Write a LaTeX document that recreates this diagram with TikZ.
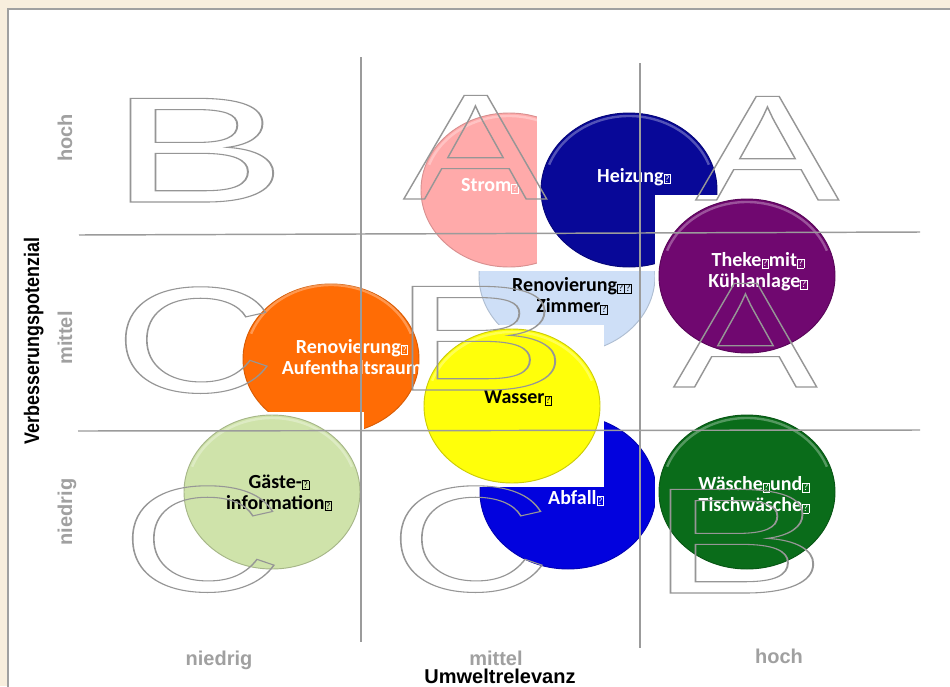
\documentclass[tikz,border=0pt]{standalone}
\usepackage{fontspec}
\setmainfont{Carlito}
\newfontfamily\arialfont{Liberation Sans}
\definecolor{bgbeige}{RGB}{248,238,221}
\definecolor{framegray}{RGB}{160,160,160}
\definecolor{gridgray}{RGB}{155,155,155}
\definecolor{labelgray}{RGB}{160,160,160}
\definecolor{lettergray}{RGB}{150,150,150}
\definecolor{pinkbub}{RGB}{255,170,170}
\definecolor{navybub}{RGB}{8,8,152}
\definecolor{purplebub}{RGB}{112,8,112}
\definecolor{skybub}{RGB}{206,223,247}
\definecolor{orangebub}{RGB}{255,108,5}
\definecolor{yellowbub}{RGB}{255,255,10}
\definecolor{sagebub}{RGB}{207,227,170}
\definecolor{bluebub}{RGB}{2,2,222}
\definecolor{greenbub}{RGB}{10,108,26}
\newcommand{\qbox}{{\setlength{\fboxsep}{0.5pt}\setlength{\fboxrule}{0.5pt}\fbox{\fontsize{7.5}{7.5}\selectfont\mdseries ?}}}
\newcommand{\outl}[1]{\special{pdf:literal direct 1 Tr 0.8 w}#1\special{pdf:literal direct 0 Tr}}
\tikzstyle{bubble}=[line width=0.7pt]
\tikzstyle{rim}=[white, opacity=0.3, line width=1.8pt]
\tikzstyle{bubbletext}=[text=white, font=\bfseries\fontsize{15}{15.8}\selectfont, align=center, inner sep=0pt]
\tikzstyle{axislabel}=[text=labelgray, font=\arialfont\bfseries\fontsize{15}{15}\selectfont, inner sep=0pt, anchor=base]
\tikzstyle{bigletter}=[text=lettergray, font=\arialfont\fontsize{113}{113}\selectfont, inner sep=0pt, anchor=base west]
\newcommand{\toprim}[1]{\draw[rim] (#1) ++(200:85 and 74) arc[start angle=200, end angle=340, x radius=85, y radius=74];}

\begin{document}
\begin{tikzpicture}[x=0.75pt, y=-0.75pt]
\useasboundingbox (0,0) rectangle (950,686);
% Sheet
    \fill[bgbeige] (0,0) rectangle (950,686);
    \filldraw[fill=white, draw=framegray, line width=0.9pt] (8,9) rectangle (970,700);
% Bubbles, each on its white box
    \fill[white] (475,195) rectangle (659,357);
    \filldraw[fill=skybub, draw=skybub!85!black, bubble] (567,276) ellipse[x radius=88, y radius=77];
    \node[bubbletext, text=black] (zimmer) at (572,296) {Renovierung\qbox\qbox\\Zimmer\qbox};
    \fill[white] (417,109) rectangle (601,271);
    \filldraw[fill=pinkbub, draw=pinkbub!85!black, bubble] (509,190) ellipse[x radius=88, y radius=77];
    \toprim{509,190}
    \node[bubbletext] (strom) at (490,186) {Strom\qbox};
    \fill[white] (537,109) rectangle (721,271);
    \filldraw[fill=navybub, draw=navybub!80!black, bubble] (629,190) ellipse[x radius=88, y radius=77];
    \toprim{629,190}
    \node[bubbletext] (heizung) at (634,177) {Heizung\qbox};
    \fill[white] (655,195) rectangle (839,357);
    \filldraw[fill=purplebub, draw=purplebub!80!black, bubble] (747,276) ellipse[x radius=88, y radius=77];
    \toprim{747,276}
    \node[bubbletext] (theke) at (758,272) {Theke\qbox mit\qbox\\K\"uhlanlage\qbox};
    \fill[white] (239,278) rectangle (423,440);
    \filldraw[fill=orangebub, draw=orangebub!85!black, bubble] (331,359) ellipse[x radius=88, y radius=75];
    \toprim{331,359}
    \node[bubbletext] (aufenthalt) at (352,357) {Renovierung\qbox\\Aufenthaltsraum};
    \fill[white] (180,412) rectangle (364,573);
    \filldraw[fill=sagebub, draw=sagebub!80!black, bubble] (272,492) ellipse[x radius=88, y radius=77];
    \toprim{272,492}
    \node[bubbletext, text=black] (gaeste) at (279,493) {G\"aste-\qbox\\information\qbox};
    \fill[white] (476,411) rectangle (660,573);
    \filldraw[fill=bluebub, draw=bluebub!80!black, bubble] (568,492) ellipse[x radius=88, y radius=77];
    \node[bubbletext] (abfall) at (576,498) {Abfall\qbox};
    \fill[white] (420,325) rectangle (604,487);
    \filldraw[fill=yellowbub, draw=yellowbub!80!black, bubble] (512,406) ellipse[x radius=88, y radius=77];
    \toprim{512,406}
    \node[bubbletext, text=black] (wasser) at (518,398) {Wasser\qbox};
    \fill[white] (655,411) rectangle (839,573);
    \filldraw[fill=greenbub, draw=greenbub!80!black, bubble] (747,492) ellipse[x radius=88, y radius=77];
    \toprim{747,492}
    \node[bubbletext] (waesche) at (754,495) {W\"asche\qbox und\qbox\\Tischw\"asche\qbox};
% Letters
    \node[bigletter, xscale=1.78] (bTop) at (108,202) {\outl{B}};
    \node[bigletter, xscale=1.43] (aTopMid) at (403,199) {\outl{A}};
    \node[bigletter, xscale=1.43] (aTopRight) at (695,200) {\outl{A}};
    \node[bigletter, xscale=1.48] (cMid) at (114,392) {\outl{C}};
    \node[bigletter, xscale=1.78] (bMid) at (390,390) {\outl{B}};
    \node[bigletter, xscale=1.43] (aMid) at (673,387) {\outl{A}};
    \node[bigletter, xscale=1.48] (cLowLeft) at (121,591) {\outl{C}};
    \node[bigletter, xscale=1.48] (cLowMid) at (389,591) {\outl{C}};
    \node[bigletter, xscale=1.78] (bLow) at (648,593) {\outl{B}};
% Grid
    \draw[gridgray, line width=1.1pt] (361,57) -- (361,642);
    \draw[gridgray, line width=1.1pt] (640,63) -- (640,648);
    \draw[gridgray, line width=1.1pt] (79,235) -- (920,232);
    \draw[gridgray, line width=1.1pt] (78,431) -- (920,430);
% Axes
    \node[axislabel, rotate=90] (yHoch) at (72,138) {hoch};
    \node[axislabel, rotate=90] (yMittel) at (72,338) {mittel};
    \node[axislabel, rotate=90] (yNiedrig) at (72,512) {niedrig};
    \node[axislabel, text=black, rotate=90, xscale=0.85, font=\arialfont\bfseries\fontsize{15.8}{15.8}\selectfont] (yTitle) at (39,341) {Verbesserungspotenzial};
    \node[axislabel] (xNiedrig) at (219,665) {niedrig};
    \node[axislabel] (xMittel) at (496,665) {mittel};
    \node[axislabel] (xHoch) at (779,663) {hoch};
    \node[axislabel, text=black] (xTitle) at (500,683) {Umweltrelevanz};
\end{tikzpicture}
\end{document}
